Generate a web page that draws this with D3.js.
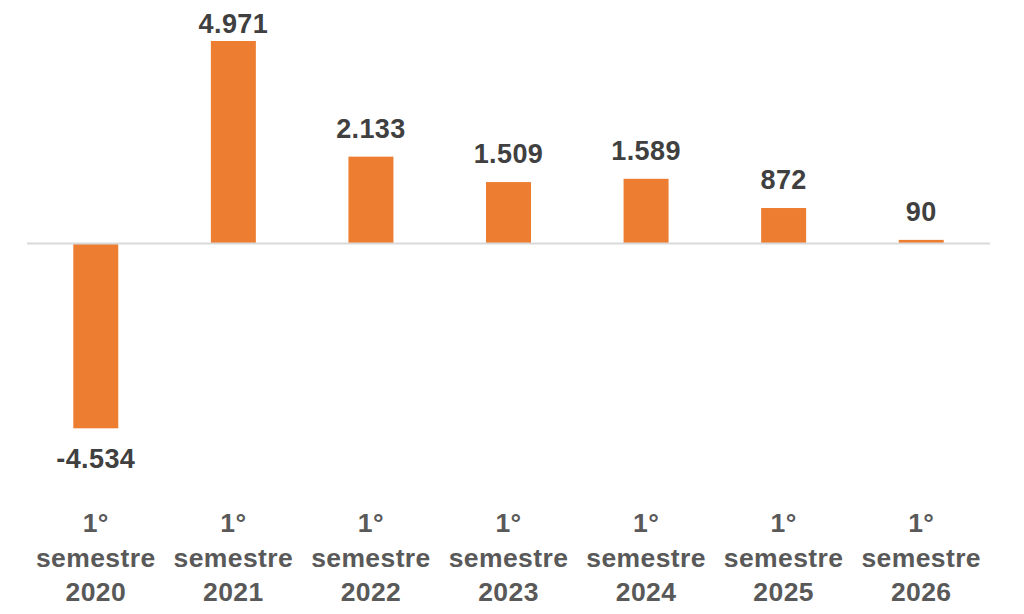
<!DOCTYPE html>
<html>
<head>
<meta charset="utf-8">
<script src="https://cdn.jsdelivr.net/npm/d3@7"></script>
<style>
  html, body { margin: 0; padding: 0; background: #fff; }
  svg { display: block; font-family: "Liberation Sans", Arial, sans-serif; }
</style>
</head>
<body>
<svg id="chart" width="1024" height="614"></svg>
<script>
// Data
const categories = ['2020', '2021', '2022', '2023', '2024', '2025', '2026'];
const catPrefix = ['1°', 'semestre'];
const values = [-4534, 4971, 2133, 1509, 1589, 872, 90];

const W = 1024, H = 614;
const plot = { left: 27, right: 990, top: 41, bottom: 428.3 };

const svg = d3.select('#chart');
// Portuguese style: dot as thousands separator, plain hyphen for minus
const fmt = v => (v < 0 ? '-' : '') + d3.format(',')(Math.abs(v)).replace(/,/g, '.');

const x = d3.scaleBand()
  .domain(categories)
  .range([plot.left, plot.right])
  .paddingInner(0.673)
  .paddingOuter(0.3365);

const y = d3.scaleLinear()
  .domain([d3.min(values), d3.max(values)])
  .range([plot.bottom, plot.top]);

const data = categories.map((c, i) => ({ cat: c, value: values[i] }));

// Bars
svg.append('g').selectAll('rect').data(data)
  .join('rect')
  .attr('x', d => x(d.cat))
  .attr('width', x.bandwidth())
  .attr('y', d => Math.min(y(d.value), y(0)))
  .attr('height', d => Math.abs(y(d.value) - y(0)))
  .attr('fill', '#ED7D31');

// Zero line
svg.append('line')
  .attr('x1', plot.left).attr('x2', plot.right)
  .attr('y1', y(0)).attr('y2', y(0))
  .attr('stroke', '#D9D9D9').attr('stroke-width', 2);

// Value labels
svg.append('g').selectAll('text').data(data)
  .join('text')
  .attr('x', d => x(d.cat) + x.bandwidth() / 2)
  .attr('y', d => d.value >= 0 ? Math.max(y(d.value) - 19, 33) : y(d.value) + 40)
  .attr('text-anchor', 'middle')
  .attr('font-size', '27px').attr('font-weight', 'bold')
  .attr('letter-spacing', '0.4px')
  .attr('fill', '#404040')
  .text(d => fmt(d.value));

// Category labels (three lines)
const cat = svg.append('g').selectAll('text').data(data)
  .join('text')
  .attr('text-anchor', 'middle')
  .attr('font-size', '26.5px').attr('font-weight', 'bold')
  .attr('letter-spacing', '0.4px')
  .attr('fill', '#595959');

cat.each(function(d) {
  const t = d3.select(this);
  const cx = x(d.cat) + x.bandwidth() / 2;
  [...catPrefix, d.cat].forEach((line, i) => {
    t.append('tspan').attr('x', cx).attr('y', 532 + i * 34.6).text(line);
  });
});
</script>
</body>
</html>
